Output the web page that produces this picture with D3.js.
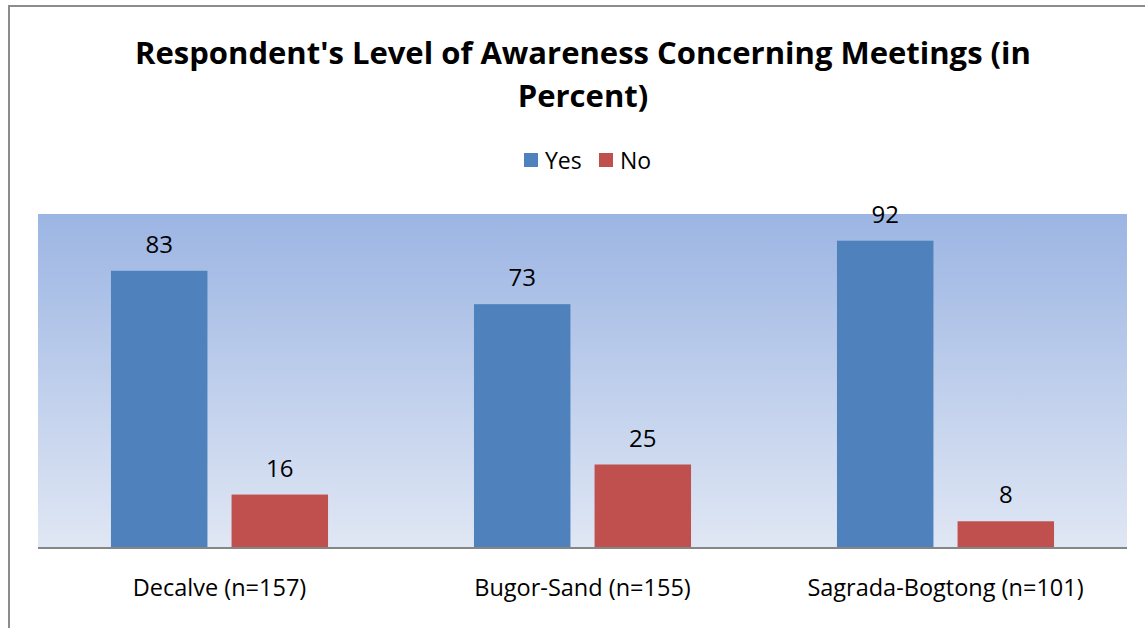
<!DOCTYPE html>
<html><head><meta charset="utf-8">
<script src="https://cdn.jsdelivr.net/npm/d3@7"></script>
<style>body{margin:0;background:#fff;}svg{display:block;}</style>
</head><body>
<svg id="c" width="1145" height="628"></svg>
<script>
const categories = ["Decalve (n=157)", "Bugor-Sand (n=155)", "Sagrada-Bogtong (n=101)"];
const seriesNames = ["Yes", "No"];
const yesValues = [83, 73, 92];
const noValues = [16, 25, 8];
const colors = ["#4f81bd", "#c0504d"];
const title = ["Respondent's Level of Awareness Concerning Meetings (in", "Percent)"];

const svg = d3.select("#c");
const font = "'Open Sans', sans-serif";
const plot = {left: 38, right: 1127, top: 214, bottom: 548};

// frame
svg.append("rect").attr("x", 9).attr("y", 6).attr("width", 1160).attr("height", 640)
  .attr("fill", "none").attr("stroke", "#8c8c8c").attr("stroke-width", 2);

// gradient
const defs = svg.append("defs");
const g = defs.append("linearGradient").attr("id", "bg").attr("x1", 0).attr("y1", 0).attr("x2", 0).attr("y2", 1);
g.append("stop").attr("offset", "0%").attr("stop-color", "#9cb5e3");
g.append("stop").attr("offset", "100%").attr("stop-color", "#e0e7f4");
svg.append("rect").attr("x", plot.left).attr("y", plot.top)
  .attr("width", plot.right - plot.left).attr("height", plot.bottom - plot.top).attr("fill", "url(#bg)");

const x0 = d3.scaleBand().domain(categories).range([plot.left, plot.right]).paddingInner(0.402).paddingOuter(0.201);
const x1 = d3.scaleBand().domain(seriesNames).range([0, x0.bandwidth()]).paddingInner(0.2).paddingOuter(0);
const y = d3.scaleLinear().domain([0, 100]).range([plot.bottom, plot.top]);

const data = categories.map((c, i) => ({cat: c, vals: [{s: "Yes", v: yesValues[i]}, {s: "No", v: noValues[i]}]}));

const grp = svg.selectAll("g.cat").data(data).join("g").attr("class", "cat")
  .attr("transform", d => `translate(${x0(d.cat)},0)`);
grp.selectAll("rect").data(d => d.vals).join("rect")
  .attr("x", d => x1(d.s)).attr("width", x1.bandwidth())
  .attr("y", d => y(d.v)).attr("height", d => y(0) - y(d.v))
  .attr("fill", (d, i) => colors[i]);
grp.selectAll("text").data(d => d.vals).join("text")
  .attr("x", d => x1(d.s) + x1.bandwidth() / 2).attr("y", d => y(d.v) - 18)
  .attr("text-anchor", "middle").attr("font-family", font).attr("font-size", 24).attr("fill", "#000")
  .text(d => d.v);

// axis
const xAxis = svg.append("g").attr("transform", `translate(0,${plot.bottom})`)
  .call(d3.axisBottom(x0).tickSize(0).tickPadding(31));
xAxis.select(".domain").attr("stroke", "#868686").attr("stroke-width", 2).attr("d", `M${plot.left},0H${plot.right}`);
xAxis.selectAll("text").attr("font-family", font).attr("font-size", 23.5).attr("fill", "#000");

// title
svg.append("g").selectAll("text").data(title).join("text")
  .attr("x", 583).attr("y", (d, i) => 64 + i * 43)
  .attr("text-anchor", "middle").attr("font-family", font).attr("font-weight", "bold")
  .attr("font-size", 31).attr("fill", "#000").text(d => d);

// legend
const leg = svg.append("g");
const legX = [524, 599];
seriesNames.forEach((s, i) => {
  leg.append("rect").attr("x", legX[i]).attr("y", 153).attr("width", 14).attr("height", 14).attr("fill", colors[i]);
  leg.append("text").attr("x", legX[i] + 21).attr("y", 169).attr("font-family", font).attr("font-size", 23).attr("fill", "#000").text(s);
});
</script>
</body></html>
